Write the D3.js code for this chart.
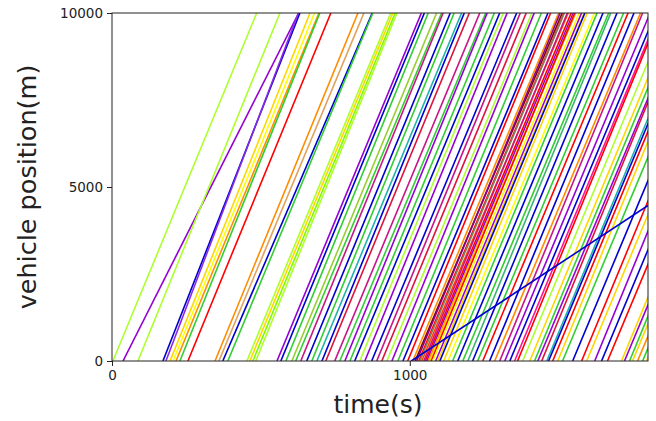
<!DOCTYPE html>
<html>
<head>
<meta charset="utf-8">
<script src="https://cdn.jsdelivr.net/npm/d3@7"></script>
<style>
  html, body { margin: 0; padding: 0; background: #fff; }
  svg { display: block; }
  text { font-family: "DejaVu Sans", sans-serif; }
</style>
</head>
<body>
<svg id="chart" width="656" height="421"></svg>
<script>
// ---- data ----
// start time (s) at which each vehicle is at position 0
const startTimes = [
  3, 37, 87, 171, 181, 195, 205, 215, 228, 255,
  346, 359, 372, 389, 453, 463, 473, 483,
  554, 567, 584, 604, 617, 634, 654, 671, 688, 705, 718,
  748, 765, 782, 799, 815, 832, 849, 872, 889, 906,
  923, 940, 960, 977, 993, 1010, 1018, 1023, 1030, 1034, 1040,
  1047, 1052, 1057, 1062, 1067, 1072, 1077, 1087, 1094, 1101, 1114, 1128,
  1144, 1161, 1178, 1195, 1211, 1228, 1245, 1268, 1285, 1302,
  1319, 1336, 1352, 1362, 1379, 1403, 1419, 1430, 1443, 1460,
  1466, 1480, 1497, 1513, 1547, 1577, 1594, 1621, 1644, 1664,
  1711, 1721, 1738, 1748, 1765, 1782, 1795,
  1005
];
// time (s) each vehicle needs to reach position 10000 m
const travelTimes = [
  483, 590, 477, 460, 445, 470, 475, 480, 470, 480,
  480, 487, 502, 487, 483, 480, 478, 474,
  485, 482, 478, 486, 490, 478, 482, 478, 486, 478, 482,
  487, 490, 478, 485, 487, 482, 478, 487, 482, 485,
  487, 478, 482, 487, 480, 490, 494, 482, 488, 485, 492,
  482, 490, 492, 495, 487, 482, 492, 490, 492, 487, 482, 492,
  485, 488, 490, 480, 485, 490, 488, 485, 490, 480,
  488, 490, 485, 480, 490, 488, 485, 490, 480, 488,
  490, 485, 480, 490, 488, 485, 490, 480, 488, 490,
  485, 490, 480, 488, 490, 485, 480,
  1780
];
const colors = [
  "#adff2f", "#9400d3", "#adff2f", "#0000cd", "#8a2be2", "#ffd700", "#ffff00", "#ff8c00", "#32cd32", "#ff0000",
  "#ff8c00", "#e0a060", "#0000cd", "#32cd32", "#adff2f", "#ffd700", "#7cfc00", "#adff2f",
  "#9400d3", "#0000cd", "#32cd32", "#9acd32", "#32cd32", "#c71585", "#0000cd", "#32cd32", "#20b2aa", "#0000cd", "#dc143c",
  "#c71585", "#32cd32", "#9400d3", "#32cd32", "#0000cd", "#adff2f", "#9400d3", "#0000cd", "#c71585", "#dc143c",
  "#adff2f", "#9400d3", "#32cd32", "#0000cd", "#ff0000", "#ff8c00", "#800000", "#8b008b", "#ff0000", "#808060", "#ff4500",
  "#c71585", "#ff0000", "#9400d3", "#ff8c00", "#ffd700", "#ff0000", "#ffff00", "#9400d3", "#ffd700", "#0000cd", "#ffd700", "#ffff00",
  "#32cd32", "#0000cd", "#32cd32", "#3cb371", "#0000cd", "#32cd32", "#ff0000", "#0000cd", "#ff8c00", "#c71585",
  "#9400d3", "#0000cd", "#ff1493", "#ff0000", "#adff2f", "#ffd700", "#32cd32", "#9400d3", "#dc143c", "#20b2aa",
  "#0000cd", "#ff0000", "#ffd700", "#32cd32", "#0000cd", "#ff0000", "#ffd700", "#9400d3", "#0000cd", "#ff0000",
  "#ffd700", "#9400d3", "#32cd32", "#ffd700", "#ff8c00", "#32cd32", "#ffd700",
  "#0000cd"
];
const xTicks = [0, 1000];
const yTicks = [0, 5000, 10000];
const xLabel = "time(s)";
const yLabel = "vehicle position(m)";

// ---- layout ----
const svg = d3.select("#chart");
const mLeft = 112, mRight = 648, mTop = 13, mBottom = 361;
const x = d3.scaleLinear().domain([0, 1800]).range([mLeft, mRight]);
const y = d3.scaleLinear().domain([0, 10000]).range([mBottom, mTop]);

svg.append("rect").attr("width", 656).attr("height", 421).attr("fill", "#fff");

svg.append("clipPath").attr("id", "clip")
  .append("rect").attr("x", mLeft).attr("y", mTop)
  .attr("width", mRight - mLeft).attr("height", mBottom - mTop);

const vehicles = startTimes.map((t0, i) => ({
  pts: [[t0, 0], [t0 + travelTimes[i], 10000]],
  color: colors[i]
}));

const line = d3.line().x(d => x(d[0])).y(d => y(d[1]));

svg.append("g").attr("clip-path", "url(#clip)")
  .selectAll("path").data(vehicles).join("path")
  .attr("d", d => line(d.pts))
  .attr("fill", "none")
  .attr("stroke", d => d.color)
  .attr("stroke-width", 1.6);

// frame
svg.append("rect").attr("x", mLeft).attr("y", mTop)
  .attr("width", mRight - mLeft).attr("height", mBottom - mTop)
  .attr("fill", "none").attr("stroke", "#222").attr("stroke-width", 1);

const xAxis = svg.append("g").attr("transform", `translate(0,${mBottom})`)
  .call(d3.axisBottom(x).tickValues(xTicks).tickFormat(d3.format("d")).tickSize(5).tickPadding(4));
const yAxis = svg.append("g").attr("transform", `translate(${mLeft},0)`)
  .call(d3.axisLeft(y).tickValues(yTicks).tickFormat(d3.format("d")).tickSize(5).tickPadding(4));
[xAxis, yAxis].forEach(g => {
  g.select(".domain").remove();
  g.selectAll("line").attr("stroke", "#222");
  g.selectAll("text").attr("fill", "#222").style("font-size", "13.5px")
    .style("font-family", "DejaVu Sans, sans-serif");
});

svg.append("text").attr("x", 378).attr("y", 413).attr("text-anchor", "middle")
  .style("font-size", "25px").attr("fill", "#222").text(xLabel);
svg.append("text").attr("transform", "translate(36,187) rotate(-90)")
  .attr("text-anchor", "middle").style("font-size", "25.5px").attr("fill", "#222").text(yLabel);
</script>
</body>
</html>
